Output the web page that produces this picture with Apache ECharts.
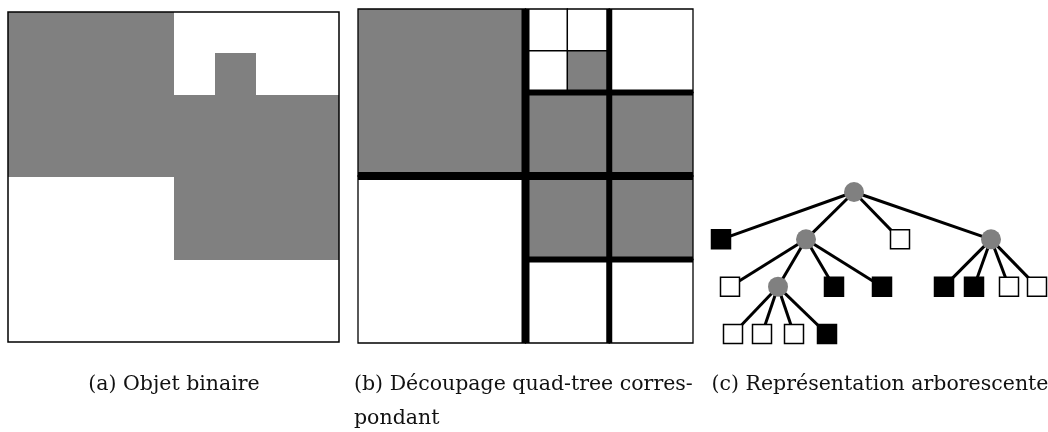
<!DOCTYPE html>
<html>
<head>
<meta charset="utf-8">
<script src="https://cdn.jsdelivr.net/npm/echarts@6/dist/echarts.min.js"></script>
<style>
  html, body { margin: 0; padding: 0; background: #fff; }
  #main { width: 1048px; height: 432px; }
</style>
</head>
<body>
<div id="main"></div>
<script>
// (a) objet binaire, grille 8x8 : 1 = gris, 0 = blanc
var objetBinaire = [
  '11110000',
  '11110100',
  '11111111',
  '11111111',
  '00001111',
  '00001111',
  '00000000',
  '00000000'
];

// (b) feuilles du quad-tree : [col, ligne, taille, gris]
var feuillesQuadtree = [
  [0, 0, 4, 1],
  [4, 0, 1, 0], [5, 0, 1, 0], [4, 1, 1, 0], [5, 1, 1, 1],
  [6, 0, 2, 0],
  [4, 2, 2, 1], [6, 2, 2, 1],
  [0, 4, 4, 0],
  [4, 4, 2, 1], [6, 4, 2, 1],
  [4, 6, 2, 0], [6, 6, 2, 0]
];
// traits de decoupage : [x1, y1, x2, y2, niveau]
var traitsDecoupage = [
  [4, 0, 4, 8, 1],
  [0, 4, 8, 4, 1],
  [6, 0, 6, 8, 2],
  [4, 2, 8, 2, 2],
  [4, 6, 8, 6, 2]
];

// (c) arbre : position horizontale, niveau, type (i = noeud, n = noir, b = blanc), parent
var noeudsX      = [154, 21, 106, 200, 291, 30, 78, 134, 182, 244, 274, 309, 337, 33, 62, 94, 127];
var noeudsNiveau = [0, 1, 1, 1, 1, 2, 2, 2, 2, 2, 2, 2, 2, 3, 3, 3, 3];
var noeudsType   = ['i', 'n', 'i', 'b', 'i', 'b', 'i', 'n', 'n', 'n', 'n', 'b', 'b', 'b', 'b', 'b', 'n'];
var noeudsParent = [-1, 0, 0, 0, 0, 2, 2, 2, 2, 4, 4, 4, 4, 6, 6, 6, 6];

var legendes = [
  '(a) Objet binaire',
  '(b) Découpage quad-tree corres-\npondant',
  '(c) Représentation arborescente'
];

var GRIS = '#808080';
var police = 'DejaVu Serif';

var cellulesA = [];
objetBinaire.forEach(function (ligne, r) {
  ligne.split('').forEach(function (v, c) {
    cellulesA.push([c, r, +v]);
  });
});

var myChart = echarts.init(document.getElementById('main'));

function styleTitre(t) {
  return {
    text: t,
    padding: 0,
    textStyle: { fontFamily: police, fontSize: 20.5, fontWeight: 'normal', color: '#111', lineHeight: 34 }
  };
}

myChart.setOption({
  animation: false,
  backgroundColor: '#fff',
  title: [
    Object.assign(styleTitre(legendes[0]), { left: 174, top: 368, textAlign: 'center' }),
    Object.assign(styleTitre(legendes[1]), { left: 354, top: 368, textAlign: 'left' }),
    Object.assign(styleTitre(legendes[2]), { left: 880, top: 368, textAlign: 'center' })
  ],
  grid: [
    { left: 8, top: 12, width: 331, height: 330, show: true, z: 5, backgroundColor: 'transparent', borderColor: '#000', borderWidth: 1.5 },
    { left: 358, top: 9, width: 335, height: 334, show: false },
    { left: 700, top: 192, width: 348, height: 142, show: false }
  ],
  xAxis: [
    { gridIndex: 0, type: 'value', min: 0, max: 8, show: false },
    { gridIndex: 1, type: 'value', min: 0, max: 8, show: false },
    { gridIndex: 2, type: 'value', min: 0, max: 348, show: false }
  ],
  yAxis: [
    { gridIndex: 0, type: 'value', min: 0, max: 8, inverse: true, show: false },
    { gridIndex: 1, type: 'value', min: 0, max: 8, inverse: true, show: false },
    { gridIndex: 2, type: 'value', min: 0, max: 3, inverse: true, show: false }
  ],
  series: [
    {
      // (a) cellules de l'objet binaire
      type: 'custom',
      xAxisIndex: 0, yAxisIndex: 0,
      silent: true,
      data: cellulesA,
      renderItem: function (params, api) {
        if (!api.value(2)) return null;
        var p0 = api.coord([api.value(0), api.value(1)]);
        var p1 = api.coord([api.value(0) + 1, api.value(1) + 1]);
        var x0 = Math.round(p0[0]), y0 = Math.round(p0[1]);
        var x1 = Math.round(p1[0]), y1 = Math.round(p1[1]);
        return {
          type: 'rect',
          shape: { x: x0, y: y0, width: x1 - x0, height: y1 - y0 },
          style: { fill: GRIS }
        };
      }
    },
    {
      // (b) feuilles du quad-tree
      type: 'custom',
      xAxisIndex: 1, yAxisIndex: 1,
      silent: true,
      data: feuillesQuadtree,
      renderItem: function (params, api) {
        var x = api.value(0), y = api.value(1), s = api.value(2);
        var p0 = api.coord([x, y]);
        var p1 = api.coord([x + s, y + s]);
        return {
          type: 'rect',
          shape: { x: p0[0], y: p0[1], width: p1[0] - p0[0], height: p1[1] - p0[1] },
          style: { fill: api.value(3) ? GRIS : '#fff', stroke: '#000', lineWidth: 1.3 }
        };
      }
    },
    {
      // (b) traits epais du decoupage
      type: 'custom',
      xAxisIndex: 1, yAxisIndex: 1,
      silent: true,
      z: 3,
      data: traitsDecoupage,
      renderItem: function (params, api) {
        var a = api.coord([api.value(0), api.value(1)]);
        var b = api.coord([api.value(2), api.value(3)]);
        return {
          type: 'line',
          shape: { x1: a[0], y1: a[1], x2: b[0], y2: b[1] },
          style: { stroke: '#000', lineWidth: api.value(4) === 1 ? 8 : 6 }
        };
      }
    },
    {
      // (c) representation arborescente
      type: 'graph',
      coordinateSystem: 'cartesian2d',
      xAxisIndex: 2, yAxisIndex: 2,
      silent: true,
      data: noeudsX.map(function (x, i) {
        var t = noeudsType[i];
        return {
          value: [x, noeudsNiveau[i]],
          symbol: t === 'i' ? 'circle' : 'rect',
          symbolSize: t === 'i' ? 20 : 19,
          itemStyle: t === 'i'
            ? { color: GRIS, borderWidth: 0, opacity: 1 }
            : { color: t === 'n' ? '#000' : '#fff', borderColor: '#000', borderWidth: 1.5, opacity: 1 }
        };
      }),
      links: noeudsParent.map(function (p, i) {
        return { source: p, target: i };
      }).filter(function (l) { return l.source >= 0; }),
      lineStyle: { color: '#000', width: 3, opacity: 1, curveness: 0 },
      label: { show: false },
      emphasis: { disabled: true }
    }
  ]
});
</script>
</body>
</html>
